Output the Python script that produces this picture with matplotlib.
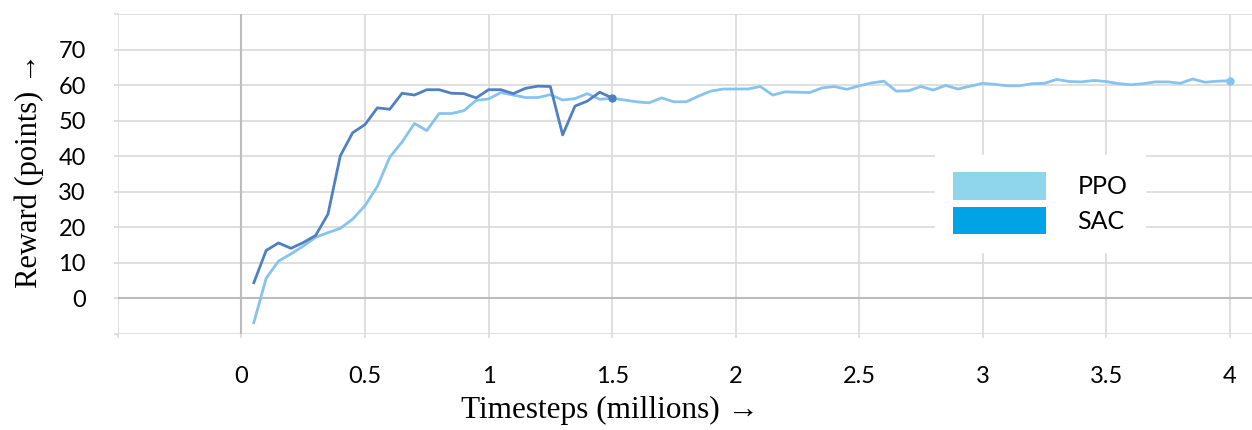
import matplotlib.pyplot as plt
from matplotlib.patches import Patch

# timesteps (millions), one point every 0.05M
ppo_x = [round(0.05 * i, 2) for i in range(1, 81)]
sac_x = [round(0.05 * i, 2) for i in range(1, 31)]

ppo_reward = [
    -6.8, 5.7, 10.5, 12.5, 14.7, 17.2, 18.5, 19.7, 22.3, 26.1,
    31.5, 39.7, 44.0, 49.2, 47.2, 52.0, 52.0, 52.8, 55.7, 56.1,
    57.9, 57.2, 56.5, 56.5, 57.3, 55.8, 56.2, 57.6, 56.0, 56.3,
    55.8, 55.3, 55.0, 56.4, 55.3, 55.3, 56.9, 58.3, 58.9, 58.9,
    58.9, 59.6, 57.2, 58.1, 58.0, 57.9, 59.2, 59.6, 58.8, 59.8,
    60.6, 61.1, 58.3, 58.4, 59.6, 58.6, 59.9, 58.9, 59.7, 60.5,
    60.2, 59.8, 59.8, 60.4, 60.5, 61.6, 61.0, 60.9, 61.3, 61.0,
    60.4, 60.1, 60.4, 60.9, 60.9, 60.5, 61.7, 60.8, 61.1, 61.2,
]
sac_reward = [
    4.4, 13.5, 15.6, 14.1, 15.7, 17.7, 23.7, 40.1, 46.6, 48.9,
    53.6, 53.2, 57.7, 57.2, 58.7, 58.7, 57.7, 57.6, 56.4, 58.7,
    58.7, 57.6, 59.1, 59.7, 59.6, 46.0, 54.1, 55.5, 58.0, 56.4,
]

x_ticks = [-0.5, 0, 0.5, 1, 1.5, 2, 2.5, 3, 3.5, 4]
x_labels = ["", "0", "0.5", "1", "1.5", "2", "2.5", "3", "3.5", "4"]
y_ticks = list(range(-10, 81, 10))
y_labels = ["" if v in (-10, 80) else str(v) for v in y_ticks]

ppo_color = "#86c3ee"
sac_color = "#4f80c2"
grid_color = "#dcdcdc"

fig = plt.figure(figsize=(12.52, 4.30), dpi=100)
ax = fig.add_axes([0.0942, 0.2233, 0.9058, 0.7442])

ax.plot(ppo_x, ppo_reward, color=ppo_color, lw=2.0, zorder=3)
ax.plot(sac_x, sac_reward, color=sac_color, lw=2.0, zorder=4)
ax.plot(ppo_x[-1:], ppo_reward[-1:], "o", color=ppo_color, ms=5, zorder=5)
ax.plot(sac_x[-1:], sac_reward[-1:], "o", color=sac_color, ms=5, zorder=5)

ax.set_xlim(-0.5, 4.09)
ax.set_ylim(-10, 80)
ax.set_xticks(x_ticks)
ax.set_xticklabels(x_labels)
ax.set_yticks(y_ticks)
ax.set_yticklabels(y_labels)
ax.grid(True, color=grid_color, lw=1.3)
ax.axhline(0, color="#bcbcbc", lw=1.5, zorder=2)
ax.axvline(0, color="#bcbcbc", lw=1.5, zorder=2)
for s in ax.spines.values():
    s.set_visible(False)
ax.tick_params(axis="both", color=grid_color, length=3, width=1.3,
               labelsize=17, pad=20)
for lab in ax.get_xticklabels() + ax.get_yticklabels():
    lab.set_family(["Lato", "DejaVu Sans"])

ax.set_xlabel("Timesteps (millions) →", family=["Liberation Serif", "DejaVu Sans"],
              fontsize=22.5)
ax.xaxis.set_label_coords(0.434, -0.195)
fig.text(0.023, 0.605, "Reward (points) →", family=["Liberation Serif", "DejaVu Sans"],
         fontsize=22, rotation=90, ha="center", va="center")

handles = [Patch(facecolor="#8fd6ea", label="PPO"),
           Patch(facecolor="#00a3e6", label="SAC")]
leg = ax.legend(handles=handles, loc="upper left", bbox_to_anchor=(0.7205, 0.5594),
                borderaxespad=0, handlelength=3.75, handleheight=1.3,
                handletextpad=1.25, labelspacing=0.3, borderpad=0.7,
                frameon=True, fancybox=False, edgecolor="white",
                prop={"family": ["Lato", "DejaVu Sans"], "size": 18})
leg.get_frame().set_alpha(1)

fig.savefig("out.png", dpi=100)
